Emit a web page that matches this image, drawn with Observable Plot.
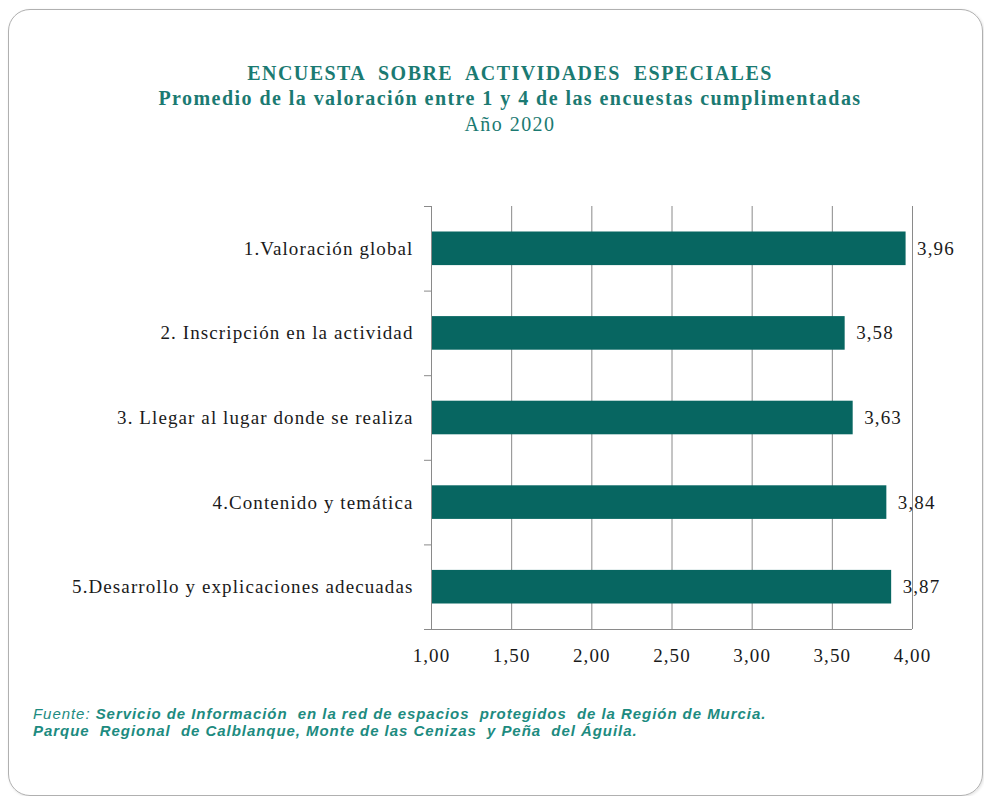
<!DOCTYPE html>
<html>
<head>
<meta charset="utf-8">
<script src="https://cdn.jsdelivr.net/npm/d3@7"></script>
<script src="https://cdn.jsdelivr.net/npm/@observablehq/plot@0.6"></script>
<style>
  body { margin: 0; background: #fff; }
  #wrap { position: relative; width: 984px; height: 796px; overflow: hidden; background: #fff; }
  #frame { position: absolute; left: 8px; top: 9px; width: 973px; height: 785px;
           border: 1.5px solid #b0b0b0; border-radius: 22px; box-shadow: 1px 1px 3px rgba(0,0,0,0.12); }
  .t { position: absolute; left: 0; width: 1020px; text-align: center;
       font-family: "Liberation Serif", "Times New Roman", serif; color: #1b7a72; font-size: 20px;
       letter-spacing: 1.45px; white-space: pre; }
  #chart { position: absolute; left: 0; top: 180px; }
  #chart svg text { letter-spacing: 1.1px; }
  #foot { position: absolute; left: 33px; top: 705px; font-family: "Liberation Sans", Arial, sans-serif;
          font-style: italic; font-size: 15px; letter-spacing: 0.95px; line-height: 17px; color: #1d8b80; white-space: pre; }
  #foot b { font-weight: bold; }
</style>
</head>
<body>
<div id="wrap">
  <div id="frame"></div>
  <div class="t" style="top:62px;font-weight:bold;">ENCUESTA  SOBRE  ACTIVIDADES  ESPECIALES</div>
  <div class="t" style="top:87px;font-weight:bold;">Promedio de la valoración entre 1 y 4 de las encuestas cumplimentadas</div>
  <div class="t" style="top:113px;">Año 2020</div>
  <div id="chart"></div>
  <div id="foot">Fuente: <b>Servicio de Información  en la red de espacios  protegidos  de la Región de Murcia.</b>
<b>Parque  Regional  de Calblanque, Monte de las Cenizas  y Peña  del Águila.</b></div>
</div>
<script>
const categories = [
  "1.Valoración global",
  "2. Inscripción en la actividad",
  "3. Llegar al lugar donde se realiza",
  "4.Contenido y temática",
  "5.Desarrollo y explicaciones adecuadas"
];
const values = [3.96, 3.58, 3.63, 3.84, 3.87];
const xTicks = [1.00, 1.50, 2.00, 2.50, 3.00, 3.50, 4.00];
const xDomain = [1, 4];

const positions = categories.map((c, i) => i + 1);
const bounds = [0.5, ...positions.map(p => p + 0.5)];
const data = categories.map((c, i) => ({cat: c, pos: positions[i], value: values[i]}));

const locale = d3.formatLocale({decimal: ",", thousands: ".", grouping: [3], currency: ["", "€"]});
const fmt = locale.format(".2f");

const barColor = "#076661";
const gridColor = "#8a8a8a";
const textColor = "#1a1a1a";

const plot = Plot.plot({
  width: 984,
  height: 510,
  marginLeft: 431,
  marginRight: 72,
  marginTop: 26,
  marginBottom: 61,
  style: {fontFamily: "'Liberation Serif', 'Times New Roman', serif", fontSize: "19px", color: textColor, background: "transparent"},
  x: {domain: xDomain},
  y: {domain: [0.5, positions.length + 0.5], reverse: true},
  marks: [
    Plot.gridX(xTicks, {stroke: gridColor, strokeOpacity: 1, strokeWidth: 1}),
    Plot.rectX(data, {
      x1: () => xDomain[0], x2: "value",
      y1: d => d.pos - 0.5, y2: d => d.pos + 0.5,
      insetTop: 25.5, insetBottom: 25.5,
      fill: barColor
    }),
    Plot.ruleX([xDomain[0]], {stroke: gridColor, strokeWidth: 1}),
    Plot.ruleY([positions.length + 0.5], {stroke: gridColor, strokeWidth: 1}),
    Plot.axisY(bounds, {tickSize: 7, tickFormat: () => "", stroke: gridColor, label: null}),
    Plot.axisY(positions, {tickSize: 0, tickPadding: 18, tickFormat: p => categories[p - 1], fontSize: 19, fill: textColor, label: null}),
    Plot.axisX(xTicks, {tickSize: 0, tickPadding: 19, tickFormat: fmt, fontSize: 19, fill: textColor, label: null}),
    Plot.text(data, {x: "value", y: "pos", text: d => fmt(d.value), dx: 11, textAnchor: "start", fontSize: 19, fill: textColor})
  ]
});
document.getElementById("chart").appendChild(plot);
</script>
</body>
</html>
